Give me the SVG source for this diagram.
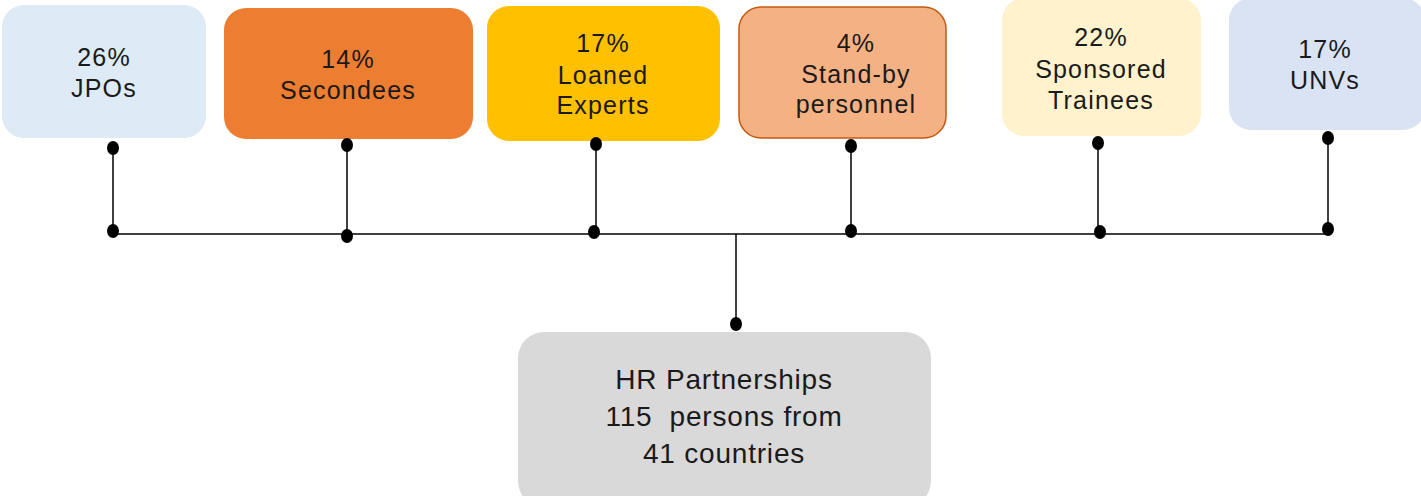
<svg xmlns="http://www.w3.org/2000/svg" width="1421" height="496" viewBox="0 0 1421 496">
<style>
.t{font-family:"Liberation Sans",Arial,sans-serif;font-size:25px;fill:#1a1a1a;text-anchor:middle;letter-spacing:1.2px}
.b{font-family:"Liberation Sans",Arial,sans-serif;font-size:28px;fill:#1a1a1a;text-anchor:middle;letter-spacing:0.8px}
.ln{stroke:#000;stroke-width:1.5;fill:none}
.dot{fill:#000}
</style>
<rect width="1421" height="496" fill="#fff"/>
<g id="jpos">
<rect x="2" y="5" width="204" height="133" rx="22" fill="#DEEAF6"/>
<text class="t" x="104" y="66">26%</text>
<text class="t" x="104" y="97">JPOs</text>
</g>
<g id="secondees">
<rect x="224" y="8" width="249" height="131" rx="22" fill="#ED7D31"/>
<text class="t" x="348" y="68">14%</text>
<text class="t" x="348" y="99">Secondees</text>
</g>
<g id="loaned">
<rect x="487" y="6" width="233" height="135" rx="22" fill="#FFC000"/>
<text class="t" x="603" y="52">17%</text>
<text class="t" x="603" y="84">Loaned</text>
<text class="t" x="603" y="114">Experts</text>
</g>
<g id="standby">
<rect x="739" y="7" width="207" height="131" rx="22" fill="#F4B183" stroke="#C55A11" stroke-width="1.5"/>
<text class="t" x="856" y="52">4%</text>
<text class="t" x="856" y="83">Stand-by</text>
<text class="t" x="856" y="113">personnel</text>
</g>
<g id="sponsored">
<rect x="1002" y="-2" width="199" height="138" rx="22" fill="#FFF2CC"/>
<text class="t" x="1101" y="46">22%</text>
<text class="t" x="1101" y="78">Sponsored</text>
<text class="t" x="1101" y="109">Trainees</text>
</g>
<g id="unvs">
<rect x="1229" y="-2" width="196" height="132" rx="22" fill="#DAE3F3"/>
<text class="t" x="1325" y="58">17%</text>
<text class="t" x="1325" y="89">UNVs</text>
</g>
<g id="hr">
<rect x="518" y="332" width="413" height="175" rx="26" fill="#D9D9D9"/>
<text class="b" x="724" y="389">HR Partnerships</text>
<text class="b" x="724" y="426" xml:space="preserve">115  persons from</text>
<text class="b" x="724" y="463">41 countries</text>
</g>
<g id="connectors">
<line class="ln" x1="113" y1="234" x2="1328" y2="234"/>
<line class="ln" x1="113" y1="148" x2="113" y2="231"/>
<line class="ln" x1="347" y1="145" x2="347" y2="236"/>
<line class="ln" x1="596" y1="144" x2="596" y2="232"/>
<line class="ln" x1="851" y1="146" x2="851" y2="231"/>
<line class="ln" x1="1098" y1="143" x2="1098" y2="232"/>
<line class="ln" x1="1328" y1="138" x2="1328" y2="229"/>
<line class="ln" x1="736" y1="234" x2="736" y2="324"/>
<ellipse class="dot" cx="113" cy="148" rx="6" ry="7"/>
<ellipse class="dot" cx="113" cy="231" rx="6" ry="7"/>
<ellipse class="dot" cx="347" cy="145" rx="6" ry="7"/>
<ellipse class="dot" cx="347" cy="236" rx="6" ry="7"/>
<ellipse class="dot" cx="596" cy="144" rx="6" ry="7"/>
<ellipse class="dot" cx="594" cy="232" rx="6" ry="7"/>
<ellipse class="dot" cx="851" cy="146" rx="6" ry="7"/>
<ellipse class="dot" cx="851" cy="231" rx="6" ry="7"/>
<ellipse class="dot" cx="1098" cy="143" rx="6" ry="7"/>
<ellipse class="dot" cx="1100" cy="232" rx="6" ry="7"/>
<ellipse class="dot" cx="1328" cy="138" rx="6" ry="7"/>
<ellipse class="dot" cx="1328" cy="229" rx="6" ry="7"/>
<ellipse class="dot" cx="736" cy="324" rx="6" ry="7"/>
</g>
</svg>
